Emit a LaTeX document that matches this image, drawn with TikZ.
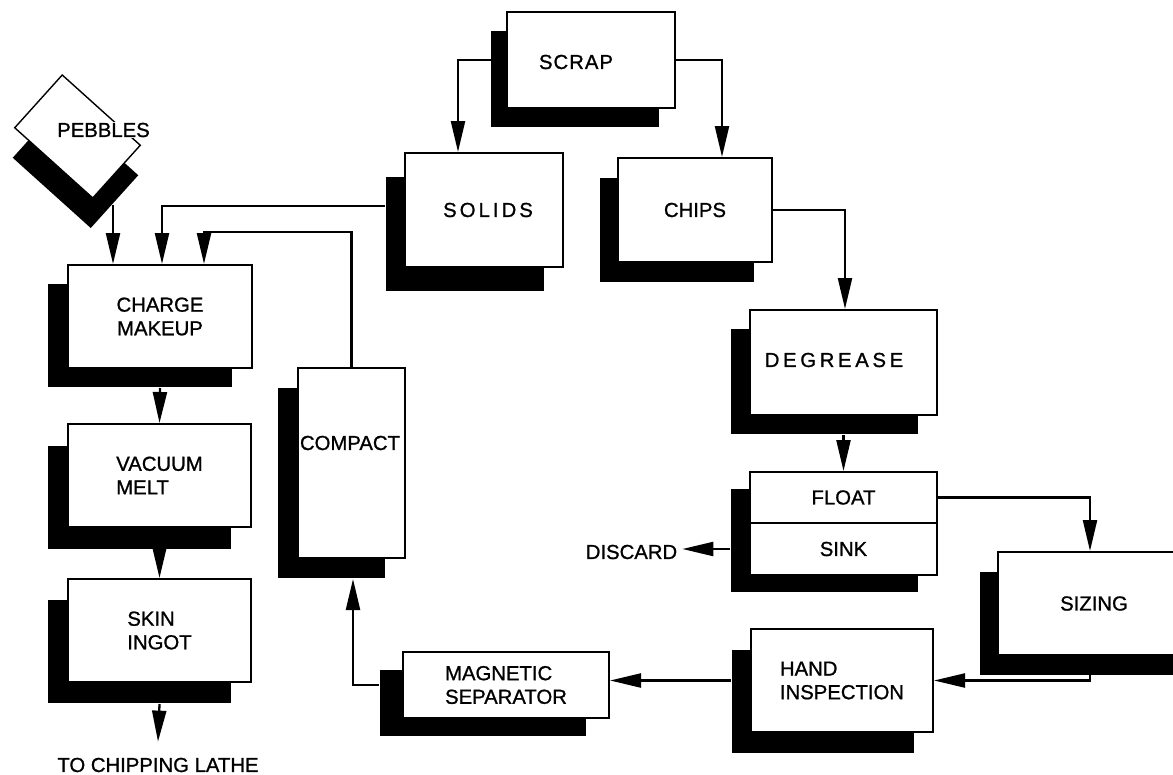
\documentclass[tikz,border=0pt]{standalone}
\usepackage{fontspec}
\setmainfont[FakeBold=1]{Liberation Sans}
\usetikzlibrary{arrows.meta,shadows}
\newcommand\myfs{\fontsize{20.3}{23.6}\selectfont}
\tikzset{
  box/.style={draw, line width=2pt, fill=white, inner sep=0pt, font=\myfs},
  sh/.style 2 args={drop shadow={shadow xshift=#1, shadow yshift=#2, fill=black, opacity=1}},
  txt/.style={font=\myfs, inner sep=2pt},
  arr/.style={line width=2.3pt, -{Triangle[length=31pt,width=14pt]}},
}
\begin{document}
\begin{tikzpicture}[x=1pt,y=-1pt]
\fill[white] (0,0) rectangle (1173,774);
\useasboundingbox (0,0) rectangle (1173,774);
\clip (0,0) rectangle (1173,774);

% boxes
\node[box, sh={-16pt}{-19pt}, minimum width=168pt, minimum height=96pt] (scrap) at (591,60) {};
\node[txt] (scrapt) at (576,62) {\addfontfeature{LetterSpace=5}SCRAP};
\node[box, sh={-19pt}{-24pt}, minimum width=158pt, minimum height=114pt] (solids) at (484,210) {\hspace*{8pt}\addfontfeature{LetterSpace=15}SOLIDS};
\node[box, sh={-18pt}{-20pt}, minimum width=154pt, minimum height=104pt] (chips) at (695,210) {CHIPS};

\node[box, sh={-2pt}{-30pt}, line width=1.4pt, rotate=-42, minimum width=105pt, minimum height=71pt] (peb) at (77.5,136.5) {};
\node[txt, fill=white, inner sep=1pt] (pebt) at (103.5,130) {PEBBLES};

\node[box, sh={-20pt}{-19pt}, minimum width=184pt, minimum height=103pt, align=center] (charge) at (160,316.5) {CHARGE\\MAKEUP};
\node[box, sh={-20pt}{-22pt}, minimum width=183pt, minimum height=103pt, align=left] (vacuum) at (159.5,475.5) {VACUUM\\MELT};
\node[box, sh={-20pt}{-21pt}, minimum width=183pt, minimum height=103pt, align=left] (skin) at (159.5,630.5) {SKIN\\INGOT};
\node[txt] (lathe) at (158,765) {TO CHIPPING LATHE};

\node[box, sh={-20pt}{-20pt}, minimum width=107pt, minimum height=190pt] (compact) at (351.5,463) {};
\node[txt, inner sep=0pt] (compactt) at (350,443) {COMPACT};

\node[box, sh={-19pt}{-19pt}, minimum width=187pt, minimum height=105pt] (degrease) at (843.5,362.5) {};
\node[txt] (degreaset) at (834,360) {\addfontfeature{LetterSpace=18}DEGREASE};

\node[box, sh={-19pt}{-17pt}, minimum width=187pt, minimum height=103pt] (fs) at (843.5,523.5) {};
\node[box, minimum width=187pt, minimum height=51pt] (float) at (843.5,497.5) {FLOAT};
\node[box, minimum width=187pt, minimum height=52pt] (sink) at (843.5,549) {SINK};
\node[txt, inner sep=5pt] (discard) at (631.5,552) {DISCARD};

\node[box, sh={-18pt}{-20pt}, minimum width=212pt, minimum height=103pt] (sizing) at (1104,603.5) {\hspace*{-20pt}SIZING};
\node[box, sh={-19pt}{-21pt}, minimum width=182pt, minimum height=103pt, align=left] (hand) at (842,680.5) {HAND\\INSPECTION};
\node[box, sh={-23pt}{-18pt}, minimum width=206pt, minimum height=66pt, align=left] (magnetic) at (506,685) {MAGNETIC\\SEPARATOR};

\coordinate (pb) at (113,205);
\coordinate (c1) at (204,232);

% connectors
\draw[arr] (scrap.west) -| ([xshift=-26pt]solids.north);
\draw[arr] (scrap.east) -| ([xshift=27pt]chips.north);
\draw[arr] ([xshift=-19pt,yshift=4pt]solids.west) -| ([xshift=2pt]charge.north);
\draw[arr] (compact.north) |- (c1) -- (c1 |- charge.north);
\draw[arr] (pb) -- (pb |- charge.north);
\draw[arr] ([yshift=-19pt]charge.south) -- (vacuum.north);
\draw[arr] ([yshift=-22pt]vacuum.south) -- (skin.north);
\draw[arr] ([yshift=-21pt]skin.south) -- ([yshift=14pt]lathe.north);
\draw[arr] (chips.east) -| ([xshift=1.5pt]degrease.north);
\draw[arr] ([yshift=-19pt]degrease.south) -- (fs.north);
\draw[arr] (float.east) -| ([xshift=-14pt]sizing.north);
\draw[arr] ([xshift=-14pt,yshift=-19pt]sizing.south) |- (hand.east);
\draw[arr] ([xshift=-19pt]hand.west) -- (hand.west -| magnetic.east);
\draw[arr] ([xshift=-23pt]magnetic.west) -| ([xshift=1.5pt,yshift=-20pt]compact.south);
\draw[arr] ([xshift=-19pt]sink.west) -- (sink.west -| discard.east);
\end{tikzpicture}
\end{document}
